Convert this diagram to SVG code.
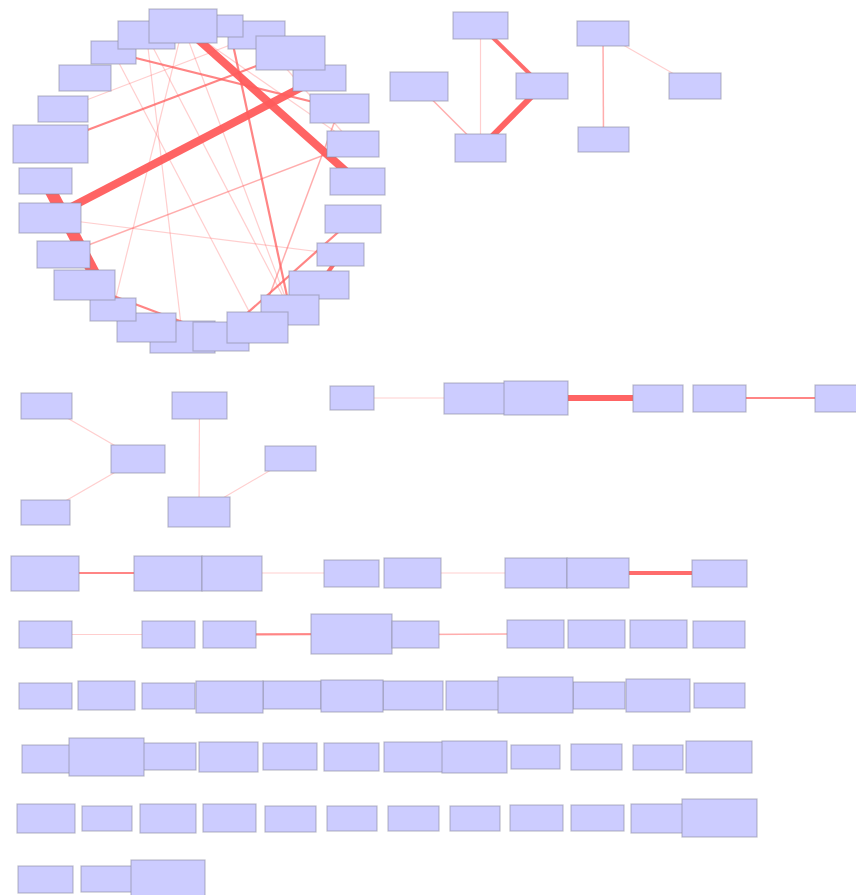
<svg xmlns="http://www.w3.org/2000/svg" width="856" height="895" viewBox="0 0 856 895">
<style>
.n{fill:#ccccff;stroke:#8a8aa0;stroke-opacity:0.55;stroke-width:1.2}
.e{stroke:#ff5c5c;fill:none;stroke-linecap:butt}
.w1{stroke-width:1.2;stroke-opacity:0.3}
.w2{stroke-width:1.5;stroke-opacity:0.5}
.w3{stroke-width:2.2;stroke-opacity:0.75}
.w4{stroke-width:4;stroke-opacity:0.9}
.w5{stroke-width:6;stroke-opacity:0.95}
.w6{stroke-width:8;stroke-opacity:0.95}
.w7{stroke-width:12;stroke-opacity:0.95}
</style>
<rect width="856" height="895" fill="#ffffff"/>
<g id="connectors">
<line class="e w6" x1="50" y1="218" x2="319.5" y2="78"/>
<line class="e w6" x1="183" y1="26" x2="357.5" y2="181.5"/>
<line class="e w7" x1="45.5" y1="181" x2="113" y2="309.5"/>
<line class="e w4" x1="340.5" y1="254.5" x2="319" y2="285"/>
<line class="e w3" x1="113.5" y1="52.5" x2="339.5" y2="108.5"/>
<line class="e w3" x1="50.5" y1="144" x2="290.5" y2="53"/>
<line class="e w3" x1="353" y1="219" x2="221" y2="336.5"/>
<line class="e w3" x1="229" y1="26" x2="290" y2="310"/>
<line class="e w1" x1="183" y1="26" x2="290" y2="310"/>
<line class="e w1" x1="146.5" y1="35" x2="290" y2="310"/>
<line class="e w3" x1="84.5" y1="285" x2="221" y2="336.5"/>
<line class="e w1" x1="50" y1="218" x2="340.5" y2="254.5"/>
<line class="e w2" x1="63.5" y1="254.5" x2="353" y2="144"/>
<line class="e w1" x1="183" y1="26" x2="113" y2="309.5"/>
<line class="e w1" x1="146.5" y1="35" x2="182.5" y2="337"/>
<line class="e w1" x1="113.5" y1="52.5" x2="257.5" y2="327.5"/>
<line class="e w1" x1="63" y1="109" x2="256.5" y2="35"/>
<line class="e w1" x1="256.5" y1="35" x2="353" y2="144"/>
<line class="e w1" x1="183" y1="26" x2="353" y2="144"/>
<line class="e w2" x1="339.5" y1="108.5" x2="257.5" y2="327.5"/>
<line class="e w1" x1="480.5" y1="25.5" x2="480.5" y2="148"/>
<line class="e w4" x1="480.5" y1="25.5" x2="542" y2="86"/>
<line class="e w5" x1="542" y1="86" x2="480.5" y2="148"/>
<line class="e w2" x1="419" y1="86.5" x2="480.5" y2="148"/>
<line class="e w2" x1="603" y1="33.5" x2="603.5" y2="139.5"/>
<line class="e w1" x1="603" y1="33.5" x2="695" y2="86"/>
<line class="e w1" x1="46.5" y1="406" x2="138" y2="459"/>
<line class="e w1" x1="138" y1="459" x2="45.5" y2="512.5"/>
<line class="e w1" x1="199.5" y1="405.5" x2="199" y2="512"/>
<line class="e w1" x1="290.5" y1="458.5" x2="199" y2="512"/>
<line class="e w1" x1="352" y1="398" x2="474.5" y2="398"/>
<line class="e w5" x1="536" y1="398" x2="658" y2="398"/>
<line class="e w3" x1="719.5" y1="398" x2="840" y2="398"/>
<line class="e w3" x1="45" y1="573" x2="168" y2="573"/>
<line class="e w1" x1="232" y1="573" x2="351.5" y2="573"/>
<line class="e w1" x1="412.5" y1="573" x2="536" y2="573"/>
<line class="e w4" x1="598" y1="573" x2="719.5" y2="573"/>
<line class="e w1" x1="45.5" y1="634.5" x2="168.5" y2="634.5"/>
<line class="e w3" x1="229.5" y1="634.5" x2="351.5" y2="634"/>
<line class="e w2" x1="415.5" y1="634.5" x2="535.5" y2="634"/>
</g>
<g id="nodes">
<rect id="AB" class="n" x="150" y="321" width="65" height="32"/>
<rect id="AC" class="n" x="193" y="322" width="56" height="29"/>
<rect id="AA" class="n" x="117" y="313" width="59" height="29"/>
<rect id="Z" class="n" x="90" y="298" width="46" height="23"/>
<rect id="Y" class="n" x="54" y="270" width="61" height="30"/>
<rect id="X" class="n" x="37" y="241" width="53" height="27"/>
<rect id="W" class="n" x="19" y="203" width="62" height="30"/>
<rect id="G" class="n" x="19" y="168" width="53" height="26"/>
<rect id="F" class="n" x="13" y="125" width="75" height="38"/>
<rect id="E" class="n" x="38" y="96" width="50" height="26"/>
<rect id="D" class="n" x="59" y="65" width="52" height="26"/>
<rect id="C" class="n" x="91" y="41" width="45" height="23"/>
<rect id="B" class="n" x="118" y="21" width="57" height="28"/>
<rect id="I" class="n" x="228" y="21" width="57" height="28"/>
<rect id="K" class="n" x="293" y="65" width="53" height="26"/>
<rect id="J" class="n" x="256" y="36" width="69" height="34"/>
<rect id="H" class="n" x="215" y="15" width="28" height="22"/>
<rect id="A" class="n" x="149" y="9" width="68" height="34"/>
<rect id="L" class="n" x="310" y="94" width="59" height="29"/>
<rect id="M" class="n" x="327" y="131" width="52" height="26"/>
<rect id="N" class="n" x="330" y="168" width="55" height="27"/>
<rect id="P" class="n" x="325" y="205" width="56" height="28"/>
<rect id="Q" class="n" x="317" y="243" width="47" height="23"/>
<rect id="R" class="n" x="289" y="271" width="60" height="28"/>
<rect id="S" class="n" x="261" y="295" width="58" height="30"/>
<rect id="T" class="n" x="227" y="312" width="61" height="31"/>

<rect id="n1" class="n" x="453" y="12" width="55" height="27"/>
<rect id="n2" class="n" x="390" y="72" width="58" height="29"/>
<rect id="n3" class="n" x="516" y="73" width="52" height="26"/>
<rect id="n4" class="n" x="455" y="134" width="51" height="28"/>
<rect id="n5" class="n" x="577" y="21" width="52" height="25"/>
<rect id="n6" class="n" x="669" y="73" width="52" height="26"/>
<rect id="n7" class="n" x="578" y="127" width="51" height="25"/>

<rect id="m1" class="n" x="21" y="393" width="51" height="26"/>
<rect id="m2" class="n" x="111" y="445" width="54" height="28"/>
<rect id="m3" class="n" x="21" y="500" width="49" height="25"/>
<rect id="m4" class="n" x="172" y="392" width="55" height="27"/>
<rect id="m5" class="n" x="265" y="446" width="51" height="25"/>
<rect id="m6" class="n" x="168" y="497" width="62" height="30"/>

<rect id="c1" class="n" x="330" y="386" width="44" height="24"/>
<rect id="c2" class="n" x="444" y="383" width="61" height="31"/>
<rect id="c3" class="n" x="504" y="381" width="64" height="34"/>
<rect id="c4" class="n" x="633" y="385" width="50" height="27"/>
<rect id="c5" class="n" x="693" y="385" width="53" height="27"/>
<rect id="c6" class="n" x="815" y="385" width="52" height="27"/>

<rect id="r1a" class="n" x="11" y="556" width="68" height="35"/>
<rect id="r1b" class="n" x="134" y="556" width="68" height="35"/>
<rect id="r1c" class="n" x="202" y="556" width="60" height="35"/>
<rect id="r1d" class="n" x="324" y="560" width="55" height="27"/>
<rect id="r1e" class="n" x="384" y="558" width="57" height="30"/>
<rect id="r1f" class="n" x="505" y="558" width="62" height="30"/>
<rect id="r1g" class="n" x="567" y="558" width="62" height="30"/>
<rect id="r1h" class="n" x="692" y="560" width="55" height="27"/>

<rect id="r2a" class="n" x="19" y="621" width="53" height="27"/>
<rect id="r2b" class="n" x="142" y="621" width="53" height="27"/>
<rect id="r2c" class="n" x="203" y="621" width="53" height="27"/>
<rect id="r2d" class="n" x="311" y="614" width="81" height="40"/>
<rect id="r2e" class="n" x="392" y="621" width="47" height="27"/>
<rect id="r2f" class="n" x="507" y="620" width="57" height="28"/>
<rect id="r2g" class="n" x="568" y="620" width="57" height="28"/>
<rect id="r2h" class="n" x="630" y="620" width="57" height="28"/>
<rect id="r2i" class="n" x="693" y="621" width="52" height="27"/>

<rect id="r3a" class="n" x="19" y="683" width="53" height="26"/>
<rect id="r3b" class="n" x="78" y="681" width="57" height="29"/>
<rect id="r3c" class="n" x="142" y="683" width="53" height="26"/>
<rect id="r3e" class="n" x="263" y="681" width="58" height="28"/>
<rect id="r3d" class="n" x="196" y="681" width="67" height="32"/>
<rect id="r3g" class="n" x="383" y="681" width="60" height="29"/>
<rect id="r3f" class="n" x="321" y="680" width="62" height="32"/>
<rect id="r3h" class="n" x="446" y="681" width="57" height="29"/>
<rect id="r3j" class="n" x="573" y="682" width="52" height="27"/>
<rect id="r3i" class="n" x="498" y="677" width="75" height="36"/>
<rect id="r3k" class="n" x="626" y="679" width="64" height="33"/>
<rect id="r3l" class="n" x="694" y="683" width="51" height="25"/>

<rect id="r4a" class="n" x="22" y="745" width="48" height="28"/>
<rect id="r4c" class="n" x="140" y="743" width="56" height="27"/>
<rect id="r4b" class="n" x="69" y="738" width="75" height="38"/>
<rect id="r4d" class="n" x="199" y="742" width="59" height="30"/>
<rect id="r4e" class="n" x="263" y="743" width="54" height="27"/>
<rect id="r4f" class="n" x="324" y="743" width="55" height="28"/>
<rect id="r4g" class="n" x="384" y="742" width="59" height="30"/>
<rect id="r4h" class="n" x="442" y="741" width="65" height="32"/>
<rect id="r4i" class="n" x="511" y="745" width="49" height="24"/>
<rect id="r4j" class="n" x="571" y="744" width="51" height="26"/>
<rect id="r4k" class="n" x="633" y="745" width="50" height="25"/>
<rect id="r4l" class="n" x="686" y="741" width="66" height="32"/>

<rect id="r5a" class="n" x="17" y="804" width="58" height="29"/>
<rect id="r5b" class="n" x="82" y="806" width="50" height="25"/>
<rect id="r5c" class="n" x="140" y="804" width="56" height="29"/>
<rect id="r5d" class="n" x="203" y="804" width="53" height="28"/>
<rect id="r5e" class="n" x="265" y="806" width="51" height="26"/>
<rect id="r5f" class="n" x="327" y="806" width="50" height="25"/>
<rect id="r5g" class="n" x="388" y="806" width="51" height="25"/>
<rect id="r5h" class="n" x="450" y="806" width="50" height="25"/>
<rect id="r5i" class="n" x="510" y="805" width="53" height="26"/>
<rect id="r5j" class="n" x="571" y="805" width="53" height="26"/>
<rect id="r5k" class="n" x="631" y="804" width="56" height="29"/>
<rect id="r5l" class="n" x="682" y="799" width="75" height="38"/>

<rect id="r6a" class="n" x="18" y="866" width="55" height="27"/>
<rect id="r6b" class="n" x="81" y="866" width="51" height="26"/>
<rect id="r6c" class="n" x="131" y="860" width="74" height="36"/>
</g>
</svg>
